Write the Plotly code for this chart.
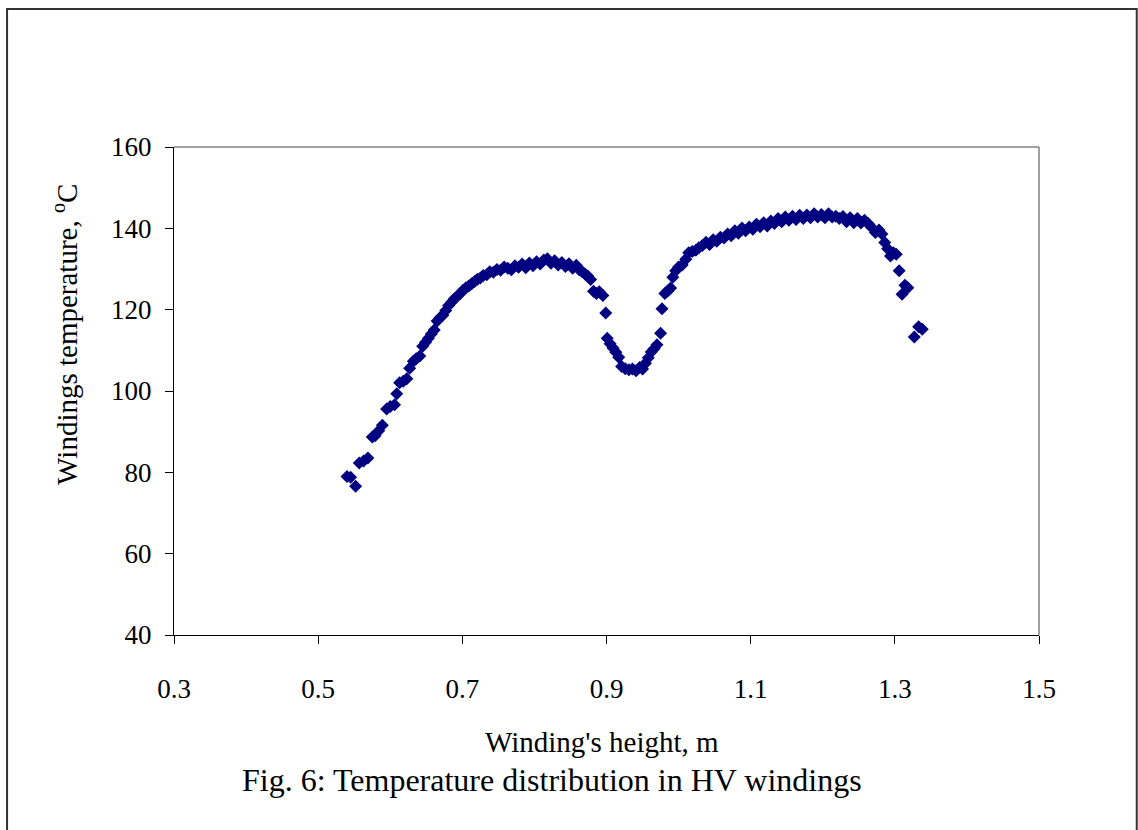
import plotly.graph_objects as go

# winding height (m) and temperature (deg C)
heights = [
    0.540, 0.545, 0.552, 0.557, 0.563, 0.569, 0.575, 0.579, 0.584, 0.589,
    0.595, 0.600, 0.606, 0.609, 0.613, 0.618, 0.623, 0.627, 0.632, 0.636,
    0.641, 0.645, 0.649, 0.653, 0.657, 0.661, 0.665, 0.669, 0.673, 0.677,
    0.681, 0.685, 0.689, 0.693, 0.697, 0.701, 0.705, 0.709, 0.713, 0.717,
    0.721, 0.725, 0.729, 0.734, 0.738, 0.743, 0.748, 0.753, 0.758, 0.763,
    0.768, 0.773, 0.778, 0.783, 0.788, 0.793, 0.798, 0.803, 0.808, 0.813,
    0.818, 0.823, 0.828, 0.833, 0.838, 0.843, 0.848, 0.853, 0.858, 0.862,
    0.866, 0.870, 0.874, 0.878, 0.882, 0.886, 0.890, 0.895, 0.899, 0.901,
    0.905, 0.909, 0.913, 0.917, 0.921, 0.926, 0.931, 0.936, 0.941, 0.946,
    0.950, 0.954, 0.958, 0.962, 0.966, 0.970, 0.975, 0.977, 0.981, 0.985,
    0.989, 0.992, 0.996, 1.000, 1.005, 1.010, 1.014, 1.019, 1.024, 1.028,
    1.033, 1.038, 1.043, 1.048, 1.053, 1.058, 1.063, 1.068, 1.073, 1.078,
    1.083, 1.088, 1.093, 1.098, 1.103, 1.108, 1.113, 1.118, 1.123, 1.128,
    1.133, 1.138, 1.143, 1.148, 1.153, 1.158, 1.163, 1.168, 1.173, 1.178,
    1.183, 1.188, 1.193, 1.198, 1.203, 1.208, 1.213, 1.218, 1.223, 1.228,
    1.233, 1.238, 1.243, 1.248, 1.253, 1.258, 1.263, 1.268, 1.273, 1.278,
    1.282, 1.286, 1.290, 1.294, 1.298, 1.302, 1.306, 1.310, 1.314, 1.318,
    1.327, 1.333, 1.338,
]
temperatures = [
    79.0, 78.8, 76.6, 82.3, 82.8, 83.5, 88.7, 89.0, 90.2, 91.6,
    95.6, 96.2, 96.6, 99.3, 102.0, 102.4, 103.0, 105.6, 107.3, 107.9,
    108.6, 111.0, 112.0, 113.0, 114.0, 115.0, 117.2, 118.0, 118.6, 119.8,
    121.0, 121.8, 122.7, 123.3, 124.0, 124.8, 125.4, 125.8, 126.4, 126.9,
    127.5, 127.8, 128.4, 128.6, 129.3, 129.2, 129.9, 129.7, 130.5, 130.2,
    129.8, 130.8, 130.4, 131.2, 130.3, 131.5, 130.8, 131.8, 131.2, 132.2,
    132.5, 131.4, 132.0, 131.0, 131.6, 130.6, 131.3, 130.2, 130.9, 129.8,
    129.4, 128.8, 128.3, 127.4, 124.5, 124.0, 124.4, 123.5, 119.2, 113.0,
    111.6, 110.6, 109.5, 108.3, 106.0, 105.5, 105.2, 105.4, 105.0, 105.8,
    105.4, 106.8, 108.2, 109.6, 110.4, 111.4, 114.2, 120.2, 124.0, 124.6,
    125.3, 128.0, 129.6, 130.5, 131.0, 132.4, 134.0, 134.3, 134.6, 135.2,
    135.8, 136.6, 136.0, 137.2, 136.8, 137.8, 137.6, 138.6, 138.2, 139.4,
    138.8, 140.1, 139.4, 140.3, 139.8, 141.0, 140.4, 141.4, 140.6, 141.8,
    141.2, 142.4, 141.6, 142.8, 142.0, 143.0, 142.2, 143.2, 142.4, 143.3,
    142.6, 143.6, 142.8, 143.4, 142.6, 143.6, 142.8, 143.0, 142.4, 142.9,
    141.6, 142.6, 141.4, 142.4, 141.3, 142.0, 141.2, 140.2, 139.0, 139.6,
    138.6, 136.5, 135.0, 133.2, 134.0, 133.6, 129.6, 123.8, 126.0, 125.4,
    113.3, 115.8, 115.2,
]

x_ticks = [0.3, 0.5, 0.7, 0.9, 1.1, 1.3, 1.5]
y_ticks = [40, 60, 80, 100, 120, 140, 160]

serif = "Times New Roman, Liberation Serif, serif"

fig = go.Figure()
fig.add_trace(go.Scatter(
    x=heights, y=temperatures, mode="markers",
    marker=dict(symbol="diamond", size=10, color="#000080", line=dict(width=0)),
    showlegend=False,
))

fig.update_layout(
    width=1138, height=830,
    margin=dict(l=174, r=99, t=147, b=195),
    paper_bgcolor="white", plot_bgcolor="white",
    font=dict(family=serif, size=27, color="black"),
    xaxis=dict(
        range=[0.3, 1.5], tickvals=x_ticks, ticktext=[f"{v:g}" for v in x_ticks],
        showgrid=False, zeroline=False, showline=True, linecolor="black", linewidth=1,
        ticks="outside", ticklen=8, tickcolor="black", ticklabelstandoff=22,
    ),
    yaxis=dict(
        range=[40, 160], tickvals=y_ticks,
        showgrid=False, zeroline=False, showline=True, linecolor="black", linewidth=1,
        ticks="outside", ticklen=8, tickcolor="black", ticklabelstandoff=8,
    ),
    shapes=[
        # grey top and right edges of the plot area
        dict(type="line", xref="paper", yref="paper", x0=0, x1=1, y0=1, y1=1,
             line=dict(color="#808080", width=1.5)),
        dict(type="line", xref="paper", yref="paper", x0=1, x1=1, y0=0, y1=1,
             line=dict(color="#808080", width=1.5)),
        # outer frame
        dict(type="rect", xref="paper", yref="paper",
             x0=-0.193, x1=1.113, y0=-0.41, y1=1.283,
             line=dict(color="#333333", width=2)),
    ],
    annotations=[
        dict(text="Windings temperature, <sup>o</sup>C", textangle=-90,
             xref="paper", yref="paper", x=-0.126, y=0.615, font=dict(size=29),
             showarrow=False, xanchor="center", yanchor="middle"),
        dict(text="Winding's height, m", xref="paper", yref="paper", font=dict(size=29),
             x=0.495, y=-0.219, showarrow=False, xanchor="center", yanchor="middle"),
        dict(text="Fig. 6: Temperature distribution in HV windings", font=dict(size=32),
             xref="paper", yref="paper", x=0.437, y=-0.297,
             showarrow=False, xanchor="center", yanchor="middle"),
    ],
)

# drop the default page margin so the figure sits at the window's top-left corner
fig.write_html("out.html", config={"displayModeBar": False},
               post_script="document.body.style.margin='0';")
